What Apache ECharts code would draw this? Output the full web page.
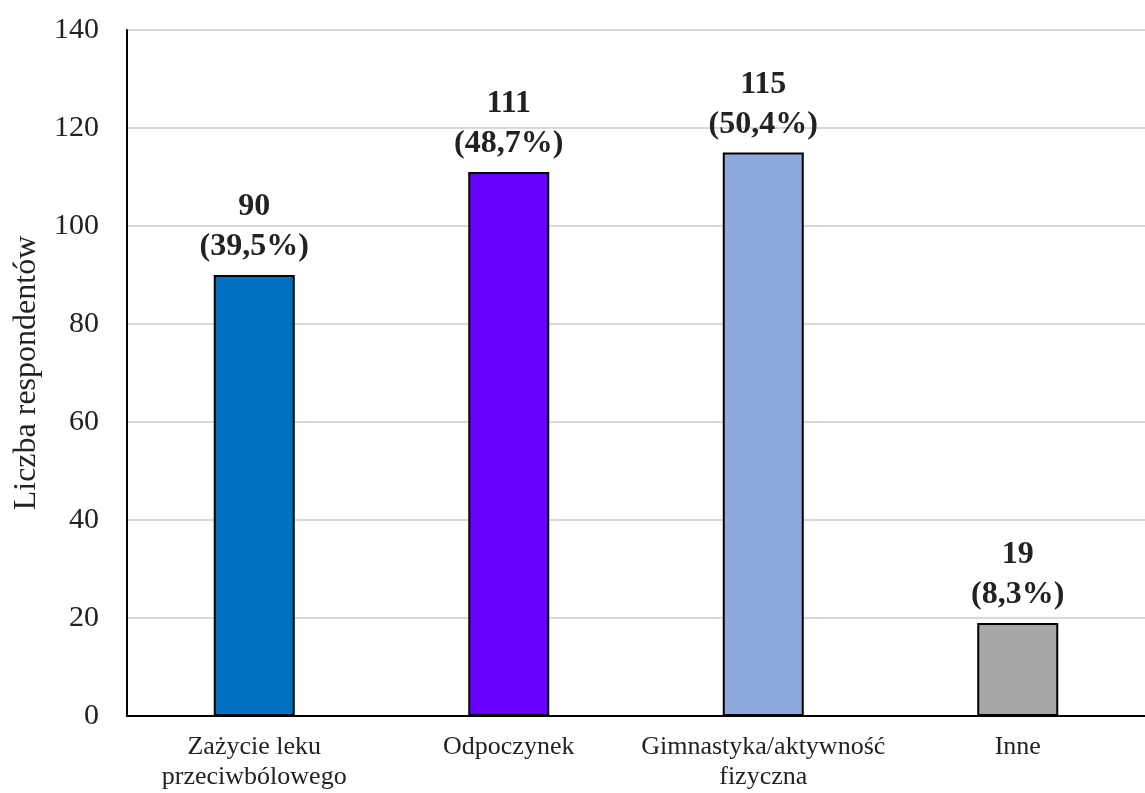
<!DOCTYPE html>
<html>
<head>
<meta charset="utf-8">
<script src="https://cdn.jsdelivr.net/npm/echarts@6/dist/echarts.min.js"></script>
<style>
html, body { margin: 0; padding: 0; background: #fff; }
#chart { width: 1145px; height: 793px; }
</style>
</head>
<body>
<div id="chart"></div>
<script>
var categories = ['Zażycie leku\nprzeciwbólowego', 'Odpoczynek', 'Gimnastyka/aktywność\nfizyczna', 'Inne'];
var values = [90, 111, 115, 19];
var percents = ['39,5%', '48,7%', '50,4%', '8,3%'];
var colors = ['#0070C0', '#6600FF', '#8EA9DB', '#A6A6A6'];
var yTicks = [0, 20, 40, 60, 80, 100, 120, 140];

var serif = '"Liberation Serif", "DejaVu Serif", serif';

var chart = echarts.init(document.getElementById('chart'));

chart.setOption({
    backgroundColor: '#fff',
    animation: false,
    grid: { left: 127, right: 0, top: 30, bottom: 77 },
    xAxis: {
        type: 'category',
        data: categories,
        axisLine: { lineStyle: { color: '#000', width: 2 } },
        axisTick: { show: false },
        axisLabel: {
            interval: 0,
            hideOverlap: false,
            color: '#222',
            fontFamily: serif,
            fontSize: 26,
            lineHeight: 30,
            margin: 16
        }
    },
    yAxis: {
        type: 'value',
        min: yTicks[0],
        max: yTicks[yTicks.length - 1],
        interval: 20,
        name: 'Liczba respondentów',
        nameLocation: 'middle',
        nameGap: 84,
        nameTextStyle: { color: '#222', fontFamily: serif, fontSize: 32 },
        axisLine: { show: true, lineStyle: { color: '#000', width: 2 } },
        axisTick: { show: false },
        axisLabel: {
            color: '#222',
            fontFamily: serif,
            fontSize: 30,
            margin: 28
        },
        splitLine: { lineStyle: { color: '#D9D9D9', width: 2 } }
    },
    series: [{
        type: 'bar',
        barWidth: 81,
        data: values.map(function (v, i) {
            return { value: v, itemStyle: { color: colors[i] } };
        }),
        itemStyle: { borderColor: '#000', borderWidth: 2 },
        label: {
            show: true,
            position: 'top',
            distance: 8,
            color: '#222',
            fontFamily: serif,
            fontWeight: 'bold',
            fontSize: 32,
            lineHeight: 40,
            formatter: function (p) {
                return p.value + '\n(' + percents[p.dataIndex] + ')';
            }
        }
    }]
});
</script>
</body>
</html>
